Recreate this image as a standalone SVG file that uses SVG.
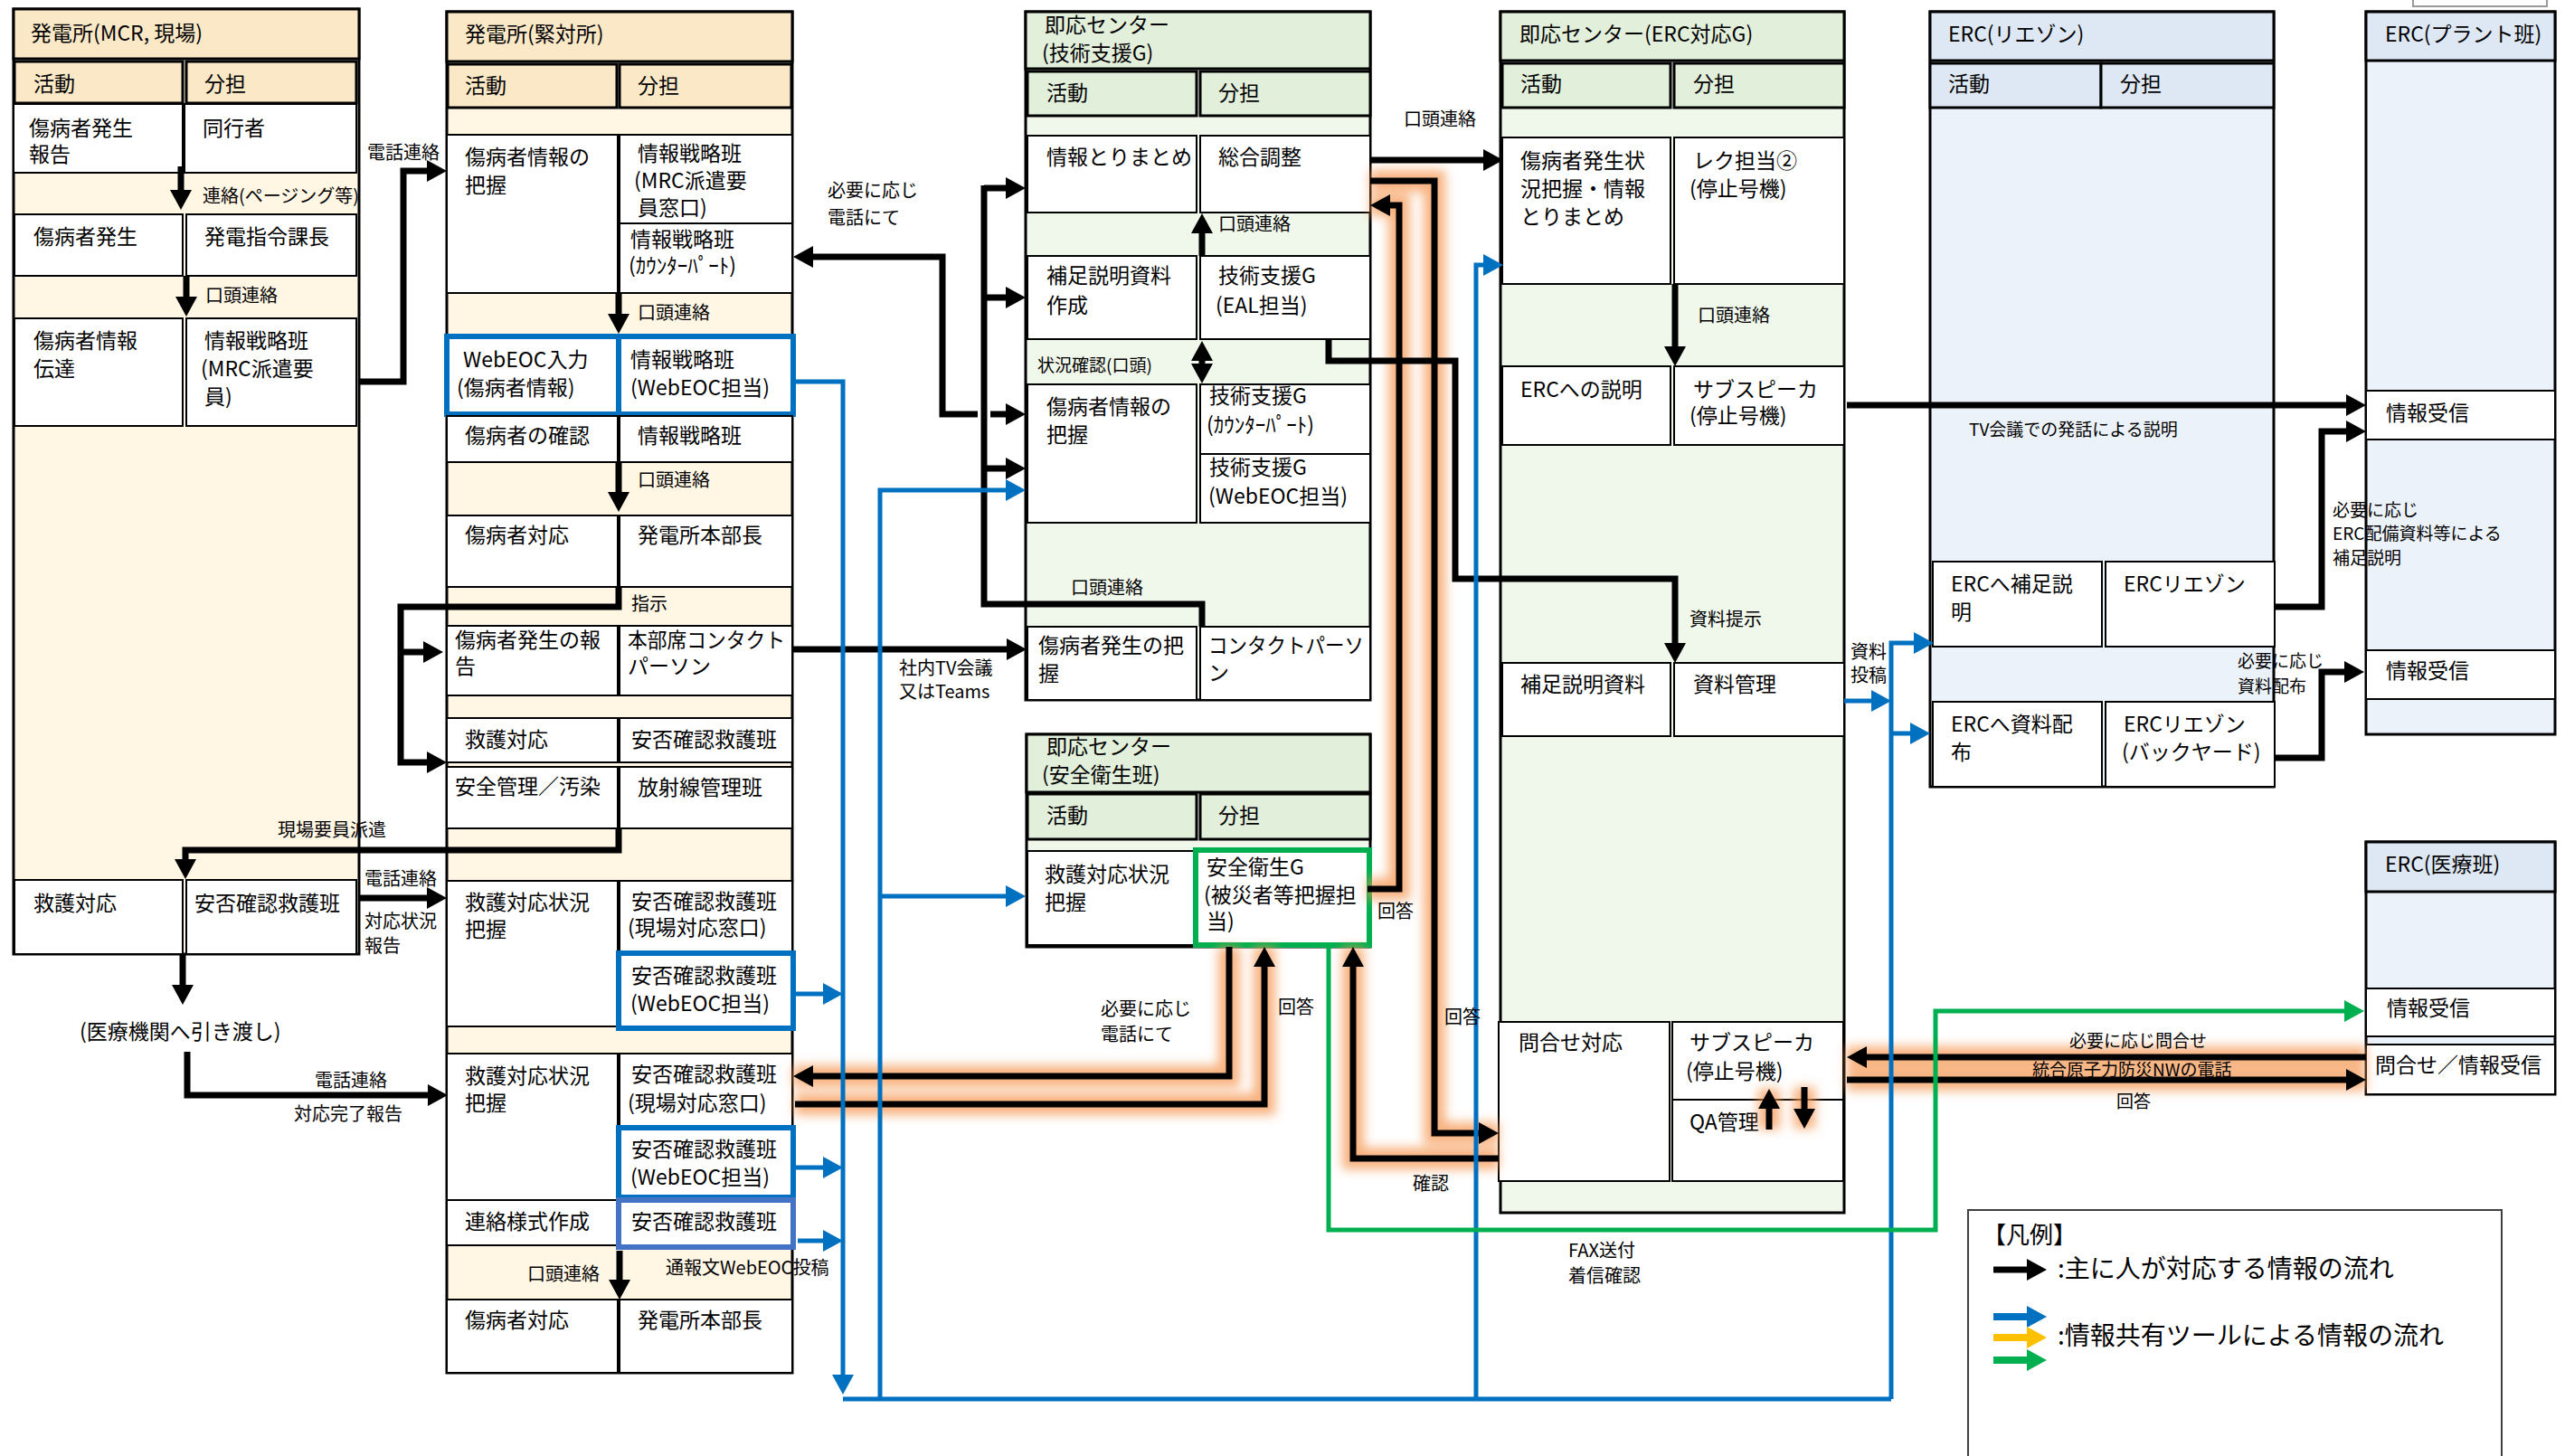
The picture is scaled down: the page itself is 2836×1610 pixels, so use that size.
<svg xmlns="http://www.w3.org/2000/svg" width="2836" height="1610" viewBox="0 0 2836 1610">
<defs>
<style>
text{font-family:"Noto Sans CJK JP","Noto Sans",sans-serif;font-size:23px;fill:#000}
.sm{font-size:20px}
.xs{font-size:19px}
.lg{font-size:28px}
.ct{fill:#FBE8C6;stroke:#000;stroke-width:3}
.cb{fill:#FFF6E4;stroke:#000;stroke-width:3}
.gt{fill:#E2EFDA;stroke:#000;stroke-width:3}
.gb{fill:#F0F7EB;stroke:#000;stroke-width:3}
.bt{fill:#DDE8F4;stroke:#000;stroke-width:3}
.bb{fill:#ECF2FA;stroke:#000;stroke-width:3}
.c{fill:#fff;stroke:#000;stroke-width:2}
.wb{fill:#fff;stroke:#0070C0;stroke-width:6}
.wb2{fill:#fff;stroke:#4472C4;stroke-width:6}
.wg{fill:#fff;stroke:#00B050;stroke-width:6}
.k{fill:none;stroke:#000;stroke-width:7}
.ka{fill:none;stroke:#000;stroke-width:7;marker-end:url(#ak)}
.kd{fill:none;stroke:#000;stroke-width:7;marker-start:url(#ak);marker-end:url(#ak)}
.b{fill:none;stroke:#0070C0;stroke-width:5}
.ba{fill:none;stroke:#0070C0;stroke-width:5;marker-end:url(#ab)}
.ga{fill:none;stroke:#00B050;stroke-width:5;marker-end:url(#ag)}
.ya{fill:none;stroke:#FFC000;stroke-width:8;marker-end:url(#ay)}
.glow{fill:none;stroke:#F5944E;stroke-width:24;stroke-opacity:.72}
</style>
<marker id="ak" viewBox="0 0 22 24" refX="12" refY="12" markerWidth="22" markerHeight="24" markerUnits="userSpaceOnUse" orient="auto-start-reverse"><path d="M0,0L22,12L0,24z" fill="#000"/></marker>
<marker id="ab" viewBox="0 0 22 24" refX="12" refY="12" markerWidth="22" markerHeight="24" markerUnits="userSpaceOnUse" orient="auto-start-reverse"><path d="M0,0L22,12L0,24z" fill="#0070C0"/></marker>
<marker id="ag" viewBox="0 0 22 24" refX="12" refY="12" markerWidth="22" markerHeight="24" markerUnits="userSpaceOnUse" orient="auto-start-reverse"><path d="M0,0L22,12L0,24z" fill="#00B050"/></marker>
<marker id="ay" viewBox="0 0 22 24" refX="12" refY="12" markerWidth="22" markerHeight="24" markerUnits="userSpaceOnUse" orient="auto-start-reverse"><path d="M0,0L22,12L0,24z" fill="#FFC000"/></marker>
<filter id="blur" filterUnits="userSpaceOnUse" x="0" y="0" width="2836" height="1610"><feGaussianBlur stdDeviation="6"/></filter>
</defs>
<rect x="0" y="0" width="2836" height="1610" fill="#fff"/>
<rect x="2668" y="-5" width="148" height="12" fill="#fff" stroke="#999" stroke-width="2"/>

<!-- Panel 1 -->
<g id="mcr">
<rect class="cb" x="15" y="10" width="382" height="1045"/>
<rect class="ct" x="15" y="10" width="382" height="55"/>
<text x="34" y="45">発電所(MCR, 現場)</text>
<g id="mcr-h1"><rect class="ct" x="16" y="68" width="186" height="46"/><text x="37" y="101">活動</text></g>
<g id="mcr-h2"><rect class="ct" x="206" y="68" width="188" height="46"/><text x="226" y="101">分担</text></g>
<g id="mcr-a1"><rect class="c" x="15" y="115" width="187" height="76"/><text x="32" y="150">傷病者発生</text><text x="32" y="179">報告</text></g>
<g id="mcr-r1"><rect class="c" x="204" y="115" width="190" height="76"/><text x="224" y="150">同行者</text></g>
<g id="mcr-a2"><rect class="c" x="16" y="237" width="186" height="68"/><text x="37" y="270">傷病者発生</text></g>
<g id="mcr-r2"><rect class="c" x="206" y="237" width="188" height="68"/><text x="226" y="270">発電指令課長</text></g>
<g id="mcr-a3"><rect class="c" x="16" y="352" width="186" height="119"/><text x="37" y="385">傷病者情報</text><text x="37" y="416">伝達</text></g>
<g id="mcr-r3"><rect class="c" x="206" y="352" width="188" height="119"/><text x="226" y="385">情報戦略班</text><text x="222" y="416">(MRC派遣要</text><text x="226" y="447">員)</text></g>
<g id="mcr-a4"><rect class="c" x="16" y="973" width="186" height="82"/><text x="37" y="1007">救護対応</text></g>
<g id="mcr-r4"><rect class="c" x="206" y="973" width="188" height="82"/><text x="215" y="1007">安否確認救護班</text></g>
</g>
<g id="handover"><text x="88" y="1149">(医療機関へ引き渡し)</text></g>

<!-- Panel 2 -->
<g id="kintai">
<rect class="cb" x="494" y="13" width="382" height="1505"/>
<rect class="ct" x="494" y="13" width="382" height="55"/>
<text x="514" y="46">発電所(緊対所)</text>
<g id="kt-h1"><rect class="ct" x="495" y="71" width="187" height="48"/><text x="514" y="103">活動</text></g>
<g id="kt-h2"><rect class="ct" x="685" y="71" width="190" height="48"/><text x="705" y="103">分担</text></g>
<g id="kt-a1"><rect class="c" x="494" y="149" width="189" height="175"/><text x="514" y="182">傷病者情報の</text><text x="514" y="213">把握</text></g>
<g id="kt-r1a"><rect class="c" x="685" y="149" width="191" height="98"/><text x="705" y="178">情報戦略班</text><text x="701" y="208">(MRC派遣要</text><text x="705" y="238">員窓口)</text></g>
<g id="kt-r1b"><rect class="c" x="685" y="247" width="191" height="77"/><text x="697" y="273">情報戦略班</text><text x="695" y="302">(ｶｳﾝﾀｰﾊﾟｰﾄ)</text></g>
<g id="kt-a2"><rect class="wb" x="494" y="372" width="190" height="86"/><text x="512" y="406">WebEOC入力</text><text x="505" y="437">(傷病者情報)</text></g>
<g id="kt-r2"><rect class="wb" x="684" y="372" width="193" height="86"/><text x="697" y="406">情報戦略班</text><text x="697" y="437">(WebEOC担当)</text></g>
<g id="kt-a3"><rect class="c" x="494" y="460" width="189" height="51"/><text x="514" y="490">傷病者の確認</text></g>
<g id="kt-r3"><rect class="c" x="685" y="460" width="191" height="51"/><text x="705" y="490">情報戦略班</text></g>
<g id="kt-a4"><rect class="c" x="494" y="570" width="189" height="79"/><text x="514" y="600">傷病者対応</text></g>
<g id="kt-r4"><rect class="c" x="685" y="570" width="191" height="79"/><text x="705" y="600">発電所本部長</text></g>
<g id="kt-a5"><rect class="c" x="494" y="692" width="189" height="77"/><text x="503" y="716">傷病者発生の報</text><text x="503" y="745">告</text></g>
<g id="kt-r5"><rect class="c" x="685" y="692" width="191" height="77"/><text x="694" y="716" textLength="174" lengthAdjust="spacingAndGlyphs">本部席コンタクト</text><text x="694" y="745">パーソン</text></g>
<g id="kt-a6"><rect class="c" x="494" y="794" width="189" height="49"/><text x="514" y="826">救護対応</text></g>
<g id="kt-r6"><rect class="c" x="685" y="794" width="191" height="49"/><text x="698" y="826">安否確認救護班</text></g>
<g id="kt-a7"><rect class="c" x="494" y="848" width="189" height="68"/><text x="503" y="878">安全管理／汚染</text></g>
<g id="kt-r7"><rect class="c" x="685" y="848" width="191" height="68"/><text x="705" y="879">放射線管理班</text></g>
<g id="kt-a8"><rect class="c" x="494" y="974" width="189" height="161"/><text x="514" y="1006">救護対応状況</text><text x="514" y="1036">把握</text></g>
<g id="kt-r8a"><rect class="c" x="685" y="974" width="191" height="80"/><text x="698" y="1005">安否確認救護班</text><text x="694" y="1034">(現場対応窓口)</text></g>
<g id="kt-r8b"><rect class="wb" x="684" y="1054" width="193" height="83"/><text x="698" y="1087">安否確認救護班</text><text x="697" y="1118">(WebEOC担当)</text></g>
<g id="kt-a9"><rect class="c" x="494" y="1165" width="189" height="162"/><text x="514" y="1198">救護対応状況</text><text x="514" y="1228">把握</text></g>
<g id="kt-r9a"><rect class="c" x="685" y="1165" width="191" height="80"/><text x="698" y="1196">安否確認救護班</text><text x="694" y="1228">(現場対応窓口)</text></g>
<g id="kt-r9b"><rect class="wb" x="684" y="1247" width="193" height="77"/><text x="698" y="1279">安否確認救護班</text><text x="697" y="1310">(WebEOC担当)</text></g>
<g id="kt-a10"><rect class="c" x="494" y="1327" width="189" height="50"/><text x="514" y="1359">連絡様式作成</text></g>
<g id="kt-r10"><rect class="wb2" x="684" y="1327" width="193" height="52"/><text x="698" y="1359">安否確認救護班</text></g>
<g id="kt-a11"><rect class="c" x="494" y="1437" width="189" height="81"/><text x="514" y="1468">傷病者対応</text></g>
<g id="kt-r11"><rect class="c" x="685" y="1437" width="191" height="81"/><text x="705" y="1468">発電所本部長</text></g>
</g>

<!-- Technical support G -->
<g id="ts">
<rect class="gb" x="1134" y="13" width="381" height="761"/>
<rect class="gt" x="1134" y="13" width="381" height="63"/>
<text x="1155" y="36">即応センター</text><text x="1152" y="67">(技術支援G)</text>
<g id="ts-h1"><rect class="gt" x="1136" y="79" width="187" height="49"/><text x="1157" y="111">活動</text></g>
<g id="ts-h2"><rect class="gt" x="1327" y="79" width="188" height="49"/><text x="1347" y="111">分担</text></g>
<g id="ts-a1"><rect class="c" x="1136" y="150" width="187" height="85"/><text x="1157" y="182">情報とりまとめ</text></g>
<g id="ts-r1"><rect class="c" x="1327" y="150" width="188" height="85"/><text x="1347" y="182">総合調整</text></g>
<g id="ts-a2"><rect class="c" x="1136" y="283" width="187" height="92"/><text x="1157" y="313">補足説明資料</text><text x="1157" y="346">作成</text></g>
<g id="ts-r2"><rect class="c" x="1327" y="283" width="188" height="92"/><text x="1347" y="313">技術支援G</text><text x="1344" y="346">(EAL担当)</text></g>
<g id="ts-a3"><rect class="c" x="1136" y="425" width="187" height="153"/><text x="1157" y="458">傷病者情報の</text><text x="1157" y="489">把握</text></g>
<g id="ts-r3a"><rect class="c" x="1327" y="425" width="188" height="77"/><text x="1337" y="446">技術支援G</text><text x="1334" y="478">(ｶｳﾝﾀｰﾊﾟｰﾄ)</text></g>
<g id="ts-r3b"><rect class="c" x="1327" y="502" width="188" height="76"/><text x="1337" y="525">技術支援G</text><text x="1336" y="557">(WebEOC担当)</text></g>
<g id="ts-a4"><rect class="c" x="1136" y="693" width="187" height="81"/><text x="1148" y="722">傷病者発生の把</text><text x="1148" y="753">握</text></g>
<g id="ts-r4"><rect class="c" x="1327" y="693" width="188" height="81"/><text x="1336" y="722" textLength="172" lengthAdjust="spacingAndGlyphs">コンタクトパーソ</text><text x="1336" y="752">ン</text></g>
</g>

<!-- Safety and health -->
<g id="se">
<rect class="gb" x="1135" y="812" width="380" height="235"/>
<rect class="gt" x="1135" y="812" width="380" height="64"/>
<text x="1157" y="834">即応センター</text><text x="1152" y="865">(安全衛生班)</text>
<g id="se-h1"><rect class="gt" x="1136" y="878" width="187" height="50"/><text x="1157" y="910">活動</text></g>
<g id="se-h2"><rect class="gt" x="1327" y="878" width="188" height="50"/><text x="1347" y="910">分担</text></g>
<g id="se-a1"><rect class="c" x="1136" y="941" width="186" height="104"/><text x="1155" y="975">救護対応状況</text><text x="1155" y="1006">把握</text></g>
<g id="se-r1"><rect class="wg" x="1322" y="940" width="192" height="105"/><text x="1334" y="967">安全衛生G</text><text x="1331" y="998">(被災者等把握担</text><text x="1334" y="1027">当)</text></g>
</g>

<!-- ERC response G -->
<g id="ercg">
<rect class="gb" x="1659" y="13" width="380" height="1328"/>
<rect class="gt" x="1659" y="13" width="380" height="54"/>
<text x="1680" y="46">即応センター(ERC対応G)</text>
<g id="ercg-h1"><rect class="gt" x="1661" y="70" width="186" height="49"/><text x="1681" y="101">活動</text></g>
<g id="ercg-h2"><rect class="gt" x="1851" y="70" width="188" height="49"/><text x="1872" y="101">分担</text></g>
<g id="ercg-a1"><rect class="c" x="1661" y="152" width="186" height="162"/><text x="1681" y="186">傷病者発生状</text><text x="1681" y="217">況把握・情報</text><text x="1681" y="248">とりまとめ</text></g>
<g id="ercg-r1"><rect class="c" x="1851" y="152" width="188" height="162"/><text x="1872" y="186">レク担当②</text><text x="1868" y="217">(停止号機)</text></g>
<g id="ercg-a2"><rect class="c" x="1661" y="405" width="186" height="87"/><text x="1681" y="439">ERCへの説明</text></g>
<g id="ercg-r2"><rect class="c" x="1851" y="405" width="188" height="87"/><text x="1872" y="439">サブスピーカ</text><text x="1868" y="468">(停止号機)</text></g>
<g id="ercg-a3"><rect class="c" x="1661" y="733" width="186" height="81"/><text x="1681" y="765">補足説明資料</text></g>
<g id="ercg-r3"><rect class="c" x="1851" y="733" width="188" height="81"/><text x="1872" y="765">資料管理</text></g>
<g id="ercg-a4"><rect class="c" x="1657" y="1130" width="189" height="176"/><text x="1679" y="1161">問合せ対応</text></g>
<g id="ercg-r4a"><rect class="c" x="1849" y="1130" width="189" height="86"/><text x="1868" y="1161">サブスピーカ</text><text x="1864" y="1193">(停止号機)</text></g>
<g id="ercg-r4b"><rect class="c" x="1849" y="1216" width="189" height="90"/><text x="1868" y="1249">QA管理</text></g>
</g>

<!-- ERC liaison -->
<g id="ercl">
<rect class="bb" x="2134" y="13" width="380" height="857"/>
<rect class="bt" x="2134" y="13" width="380" height="54"/>
<text x="2154" y="46">ERC(リエゾン)</text>
<g id="ercl-h1"><rect class="bt" x="2134" y="70" width="189" height="49"/><text x="2154" y="101">活動</text></g>
<g id="ercl-h2"><rect class="bt" x="2323" y="70" width="191" height="49"/><text x="2344" y="101">分担</text></g>
<g id="ercl-a1"><rect class="c" x="2137" y="621" width="187" height="94"/><text x="2157" y="654">ERCへ補足説</text><text x="2157" y="685">明</text></g>
<g id="ercl-r1"><rect class="c" x="2328" y="621" width="187" height="94"/><text x="2348" y="654">ERCリエゾン</text></g>
<g id="ercl-a2"><rect class="c" x="2137" y="776" width="187" height="94"/><text x="2157" y="809">ERCへ資料配</text><text x="2157" y="840">布</text></g>
<g id="ercl-r2"><rect class="c" x="2328" y="776" width="187" height="94"/><text x="2348" y="809">ERCリエゾン</text><text x="2346" y="840">(バックヤード)</text></g>
</g>

<!-- ERC plant -->
<g id="ercp">
<rect class="bb" x="2616" y="13" width="209" height="799"/>
<rect class="bt" x="2616" y="13" width="209" height="54"/>
<text x="2637" y="46">ERC(プラント班)</text>
<g id="ercp-1"><rect class="c" x="2616" y="432" width="209" height="54"/><text x="2638" y="465">情報受信</text></g>
<g id="ercp-2"><rect class="c" x="2616" y="719" width="209" height="54"/><text x="2638" y="750">情報受信</text></g>
</g>

<!-- ERC medical -->
<g id="ercm">
<rect class="bb" x="2616" y="931" width="209" height="279"/>
<rect class="bt" x="2616" y="931" width="209" height="55"/>
<text x="2637" y="964">ERC(医療班)</text>
<g id="ercm-1"><rect class="c" x="2616" y="1093" width="209" height="53"/><text x="2639" y="1123">情報受信</text></g>
<g id="ercm-2"><rect class="c" x="2616" y="1155" width="209" height="55"/><text x="2626" y="1186">問合せ／情報受信</text></g>
</g>

<!-- glow -->
<g id="glow" class="glow" filter="url(#blur)">
<path d="M1515,200H1586V1253H1657"/>
<path d="M1512,983H1547V227H1515"/>
<path d="M1657,1281H1496V1047"/>
<path d="M1359,1047V1190H877"/>
<path d="M879,1221H1398V1047"/>
<path d="M2616,1169H2042"/>
<path d="M2042,1194H2616"/>
<path d="M1956,1249V1204M1995,1202V1248"/>
</g>

<!-- connectors -->
<g id="connectors">
<path class="ka" d="M200,184V222"/>
<path class="ka" d="M206,305V340"/>
<path class="ka" d="M397,422H446V189H484"/>
<path class="ka" d="M684,324V359"/>
<path class="ka" d="M684,511V556"/>
<path class="ka" d="M684,649V671H443V843H484"/>
<path class="ka" d="M443,721H480"/>
<path class="ka" d="M684,916V940H205V962"/>
<path class="ka" d="M397,993H484"/>
<path class="ka" d="M202,1055V1101"/>
<path class="ka" d="M207,1163V1211H485"/>
<path class="ka" d="M685,1383V1427"/>
<path class="ka" d="M1081,458H1042V284H887"/>
<path class="k" d="M1329,693V668H1088V205"/>
<path class="ka" d="M1088,208H1124"/>
<path class="ka" d="M1088,329H1124"/>
<path class="ka" d="M1095,458H1124"/>
<path class="ka" d="M1088,518H1124"/>
<path class="ka" d="M877,718H1125"/>
<path class="ka" d="M1329,283V246"/>
<path class="kd" d="M1329,387V414"/>
<path class="ka" d="M1515,177H1652"/>
<path class="ka" d="M1469,375V399H1609V640H1852V723"/>
<path class="ka" d="M1852,314V395"/>
<path class="ka" d="M2042,448H2606"/>
<path class="ka" d="M2515,671H2567V477H2606"/>
<path class="ka" d="M2515,838H2567V743H2604"/>
<path class="ka" d="M1515,200H1586V1253H1647"/>
<path class="ka" d="M1512,983H1547V227H1525"/>
<path class="ka" d="M1657,1281H1496V1057"/>
<path class="ka" d="M1359,1047V1190H887"/>
<path class="ka" d="M879,1221H1398V1057"/>
<path class="ka" d="M2616,1169H2052"/>
<path class="ka" d="M2042,1194H2606"/>
<path class="ka" d="M1956,1249V1214"/>
<path class="ka" d="M1995,1202V1238"/>
<path class="ba" d="M877,422H932V1532"/>
<path class="ba" d="M880,1099H922"/>
<path class="ba" d="M880,1291H922"/>
<path class="ba" d="M882,1372H922"/>
<path class="b" d="M932,1547H2091"/>
<path class="ba" d="M973,1547V542H1124"/>
<path class="ba" d="M973,991H1124"/>
<path class="ba" d="M1632,1547V293H1652"/>
<path class="ba" d="M2091,1547V711H2128"/>
<path class="ba" d="M2091,811H2124"/>
<path class="ba" d="M2039,775H2081"/>
<path class="ga" d="M1469,1045V1360H2140V1118H2604"/>
</g>

<!-- labels -->
<g id="labels">
<text class="sm" x="224" y="224">連絡(ページング等)</text>
<text class="sm" x="227" y="334">口頭連絡</text>
<text class="sm" x="406" y="176">電話連絡</text>
<text class="sm" x="705" y="353">口頭連絡</text>
<text class="sm" x="705" y="538">口頭連絡</text>
<text class="sm" x="698" y="675">指示</text>
<text class="sm" x="307" y="925">現場要員派遣</text>
<text class="sm" x="403" y="979">電話連絡</text>
<text class="sm" x="403" y="1026">対応状況</text>
<text class="sm" x="403" y="1053">報告</text>
<text class="sm" x="348" y="1202">電話連絡</text>
<text class="sm" x="325" y="1239">対応完了報告</text>
<text class="sm" x="583" y="1416">口頭連絡</text>
<text class="sm" x="736" y="1409">通報文WebEOC投稿</text>
<text class="sm" x="915" y="218">必要に応じ</text>
<text class="sm" x="915" y="248">電話にて</text>
<text class="sm" x="994" y="746">社内TV会議</text>
<text class="sm" x="994" y="772">又はTeams</text>
<text class="sm" x="1347" y="255">口頭連絡</text>
<text class="xs" x="1147" y="411">状況確認(口頭)</text>
<text class="sm" x="1184" y="657">口頭連絡</text>
<text class="sm" x="1552" y="139">口頭連絡</text>
<text class="sm" x="1877" y="356">口頭連絡</text>
<text class="sm" x="1868" y="692">資料提示</text>
<text class="sm" x="2046" y="728">資料</text>
<text class="sm" x="2046" y="754">投稿</text>
<text class="sm" x="1523" y="1015">回答</text>
<text class="sm" x="1217" y="1123">必要に応じ</text>
<text class="sm" x="1217" y="1151">電話にて</text>
<text class="sm" x="1413" y="1121">回答</text>
<text class="sm" x="1597" y="1132">回答</text>
<text class="sm" x="1562" y="1316">確認</text>
<text class="sm" x="1734" y="1390">FAX送付</text>
<text class="sm" x="1734" y="1418">着信確認</text>
<text class="xs" x="2177" y="482">TV会議での発話による説明</text>
<text class="xs" x="2579" y="571">必要に応じ</text>
<text class="xs" x="2579" y="597">ERC配備資料等による</text>
<text class="xs" x="2579" y="624">補足説明</text>
<text class="xs" x="2474" y="738">必要に応じ</text>
<text class="xs" x="2474" y="766">資料配布</text>
<text class="xs" x="2288" y="1158">必要に応じ問合せ</text>
<text class="xs" x="2247" y="1190">統合原子力防災NWの電話</text>
<text class="xs" x="2340" y="1225">回答</text>
</g>

<!-- legend -->
<g id="legend">
<rect x="2176" y="1338" width="590" height="290" fill="#fff" stroke="#404040" stroke-width="2"/>
<text x="2192" y="1375" style="font-size:26px">【凡例】</text>
<path class="ka" d="M2204,1404H2253"/>
<text class="lg" x="2275" y="1413">:主に人が対応する情報の流れ</text>
<path class="ba" d="M2204,1456H2253" style="stroke-width:8"/>
<path class="ya" d="M2204,1479H2253"/>
<path class="ga" d="M2204,1504H2253" style="stroke-width:8"/>
<text class="lg" x="2275" y="1487">:情報共有ツールによる情報の流れ</text>
</g>
</svg>
